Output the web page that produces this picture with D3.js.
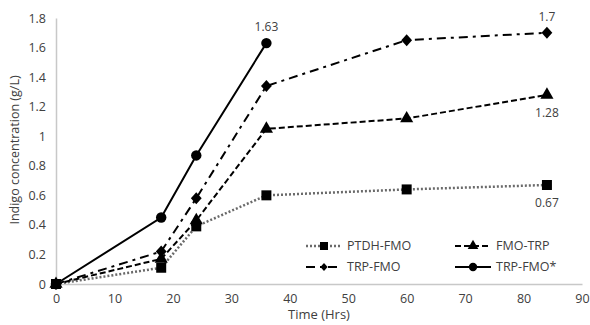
<!DOCTYPE html>
<head>
<meta charset="utf-8">
<title>Indigo concentration</title>
<style>
  body { margin: 0; background: #fff; }
  text { font-family: "Open Sans", "Noto Sans", sans-serif; fill: #404040; }
</style>
</head>
<body>
<svg width="590" height="325"></svg>
<script src="https://d3js.org/d3.v7.min.js"></script>
<script>

// data
var hours = [0, 18, 24, 36, 60, 84];
var ptdhFmo = [0, 0.11, 0.39, 0.60, 0.64, 0.67];
var fmoTrp = [0, 0.17, 0.43, 1.05, 1.12, 1.28];
var trpFmo = [0, 0.22, 0.58, 1.34, 1.65, 1.70];
var trpFmoStar = [0, 0.45, 0.87, 1.63];
var xTicks = [0, 10, 20, 30, 40, 50, 60, 70, 80, 90];
var yTicks = [0, 0.2, 0.4, 0.6, 0.8, 1, 1.2, 1.4, 1.6, 1.8];

var series = [
    { name: 'PTDH-FMO', values: ptdhFmo, dash: '2,2', color: '#6a6a6a', width: 2.5, marker: 'square', label: '0.67', labelIdx: 5, labelDy: 22 },
    { name: 'FMO-TRP', values: fmoTrp, dash: '6,3', color: '#000', width: 2, marker: 'triangle', label: '1.28', labelIdx: 5, labelDy: 22 },
    { name: 'TRP-FMO', values: trpFmo, dash: '9,5,3,5', color: '#000', width: 2, marker: 'diamond', label: '1.7', labelIdx: 5, labelDy: -12 },
    { name: 'TRP-FMO*', values: trpFmoStar, dash: null, color: '#000', width: 2, marker: 'circle', label: '1.63', labelIdx: 3, labelDy: -12 }
];

var svg = d3.select('svg');
var x = d3.scaleLinear().domain([0, 90]).range([56, 582]);
var y = d3.scaleLinear().domain([0, 1.8]).range([284, 18]);

// axes
var xAxis = svg.append('g')
    .attr('transform', 'translate(0,' + y(0) + ')')
    .call(d3.axisBottom(x).tickValues(xTicks).tickSize(0).tickPadding(10));
var yAxis = svg.append('g')
    .attr('transform', 'translate(' + x(0) + ',0)')
    .call(d3.axisLeft(y).tickValues(yTicks).tickSize(0).tickPadding(10).tickFormat(d3.format('~g')));
[xAxis, yAxis].forEach(a => {
    a.select('.domain').attr('stroke', '#c8c8c8').attr('stroke-width', 1.5);
    a.selectAll('text').style('font-size', '12.5px').attr('fill', '#404040');
});

svg.append('text')
    .attr('x', 319).attr('y', 319)
    .attr('text-anchor', 'middle')
    .style('font-size', '13px')
    .text('Time (Hrs)');
svg.append('text')
    .attr('transform', 'translate(19,150) rotate(-90)')
    .attr('text-anchor', 'middle')
    .style('font-size', '12.5px')
    .text('Indigo concentration (g/L)');

var symbolType = {
    square: d3.symbolSquare,
    triangle: d3.symbolTriangle,
    diamond: d3.symbolDiamond,
    circle: d3.symbolCircle
};
var symbolSize = { square: 100, triangle: 75, diamond: 42, circle: 85 };

function drawMarker(g, s, px, py, scale) {
    g.append('path')
        .attr('d', d3.symbol().type(symbolType[s.marker]).size(symbolSize[s.marker] * (scale || 1))())
        .attr('transform', 'translate(' + px + ',' + py + ')' + (s.marker === 'diamond' ? ' scale(1.55,1)' : ''))
        .attr('fill', '#000');
}

var line = d3.line()
    .x((d, i) => x(hours[i]))
    .y(d => y(d));

series.forEach(s => {
    var g = svg.append('g');
    g.append('path')
        .datum(s.values)
        .attr('d', line)
        .attr('fill', 'none')
        .attr('stroke', s.color)
        .attr('stroke-width', s.width)
        .attr('stroke-dasharray', s.dash);
    s.values.forEach((v, i) => drawMarker(g, s, x(hours[i]), y(v)));
    g.append('text')
        .attr('x', x(hours[s.labelIdx]))
        .attr('y', y(s.values[s.labelIdx]) + s.labelDy)
        .attr('text-anchor', 'middle')
        .style('font-size', '12px')
        .text(s.label);
});

// legend
var legendPos = [[306, 246], [455, 246], [306, 267], [455, 267]];
series.forEach((s, j) => {
    var lg = svg.append('g');
    var lx = legendPos[j][0], ly = legendPos[j][1];
    lg.append('line')
        .attr('x1', lx).attr('x2', lx + 36)
        .attr('y1', ly).attr('y2', ly)
        .attr('stroke', s.color)
        .attr('stroke-width', s.width)
        .attr('stroke-dasharray', s.dash);
    drawMarker(lg, s, lx + 18, ly, s.marker === 'diamond' ? 0.45 : 0.65);
    lg.append('text')
        .attr('x', lx + 41).attr('y', ly + 4)
        .style('font-size', '12.5px')
        .text(s.name);
});
</script>
</body>
